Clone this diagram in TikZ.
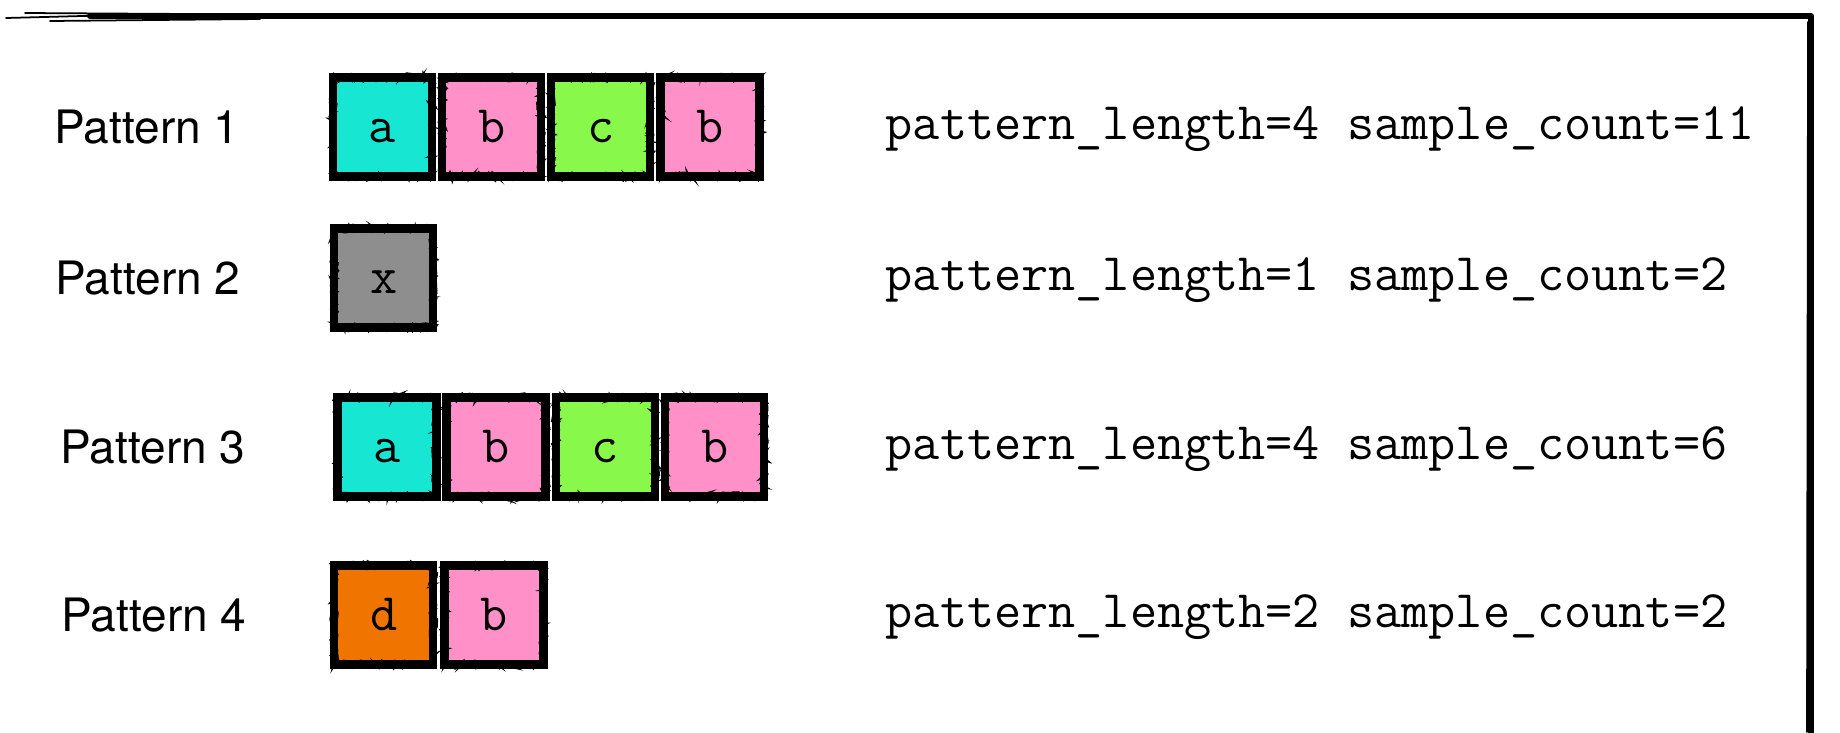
\documentclass[tikz,border=0pt]{standalone}
\usepackage{fontspec}
\setsansfont{TeX Gyre Heros}
\usepackage{tikz}
\usetikzlibrary{decorations.pathmorphing}
\usepackage{xcolor}
\definecolor{SeqCyan}{HTML}{17E6D2}
\definecolor{SeqPink}{HTML}{FF90C8}
\definecolor{SeqGreen}{HTML}{88F84A}
\definecolor{SeqGray}{HTML}{8E8E8E}
\definecolor{SeqOrange}{HTML}{EF7400}

\begin{document}
\begin{tikzpicture}[
  x=1cm,y=1cm,font=\sffamily,
  brush/.style={draw=black,line width=1.7pt,line cap=round,line join=round},
  wisp/.style={draw=black,line width=0.5pt,line cap=round},
  cell/.style={draw=black,line width=2.3pt,minimum width=0.99cm,minimum height=0.99cm,
    inner sep=0pt,text height=9pt,text depth=0pt,
    font=\ttfamily\fontsize{15}{16}\selectfont,
    postaction={draw=black,line width=0.8pt,decorate,
      decoration={random steps,segment length=1pt,amplitude=0.9pt}},
    postaction={draw=black,line width=0.4pt,decorate,
      decoration={random steps,segment length=0.8pt,amplitude=1.3pt}}},
  rowname/.style={font=\sffamily\fontsize{13.1}{15}\selectfont},
  stats/.style={anchor=base west,inner xsep=0pt,font=\ttfamily\fontsize{15}{16}\selectfont}
]
\useasboundingbox (0,0) rectangle (18.4,7.32);

% sketched frame: top and right edges only
\draw[brush] (0.9,7.16) -- (18.11,7.16) -- (18.11,0);
\draw[wisp] (0.06,7.14) -- (1.2,7.17);
\draw[wisp] (0.25,7.19) -- (1.9,7.18);
\draw[wisp] (0.5,7.11) -- (2.6,7.13);
\draw[wisp] (18.08,7.1) -- (18.07,0);

% row labels
\node[rowname] (name1) at (1.47,6.05) {Pattern 1};
\node[rowname] (name2) at (1.48,4.54) {Pattern 2};
\node[rowname] (name3) at (1.53,2.85) {Pattern 3};
\node[rowname] (name4) at (1.54,1.17) {Pattern 4};

% pattern 1
\node[cell,fill=SeqCyan] (p1a) at (3.825,6.05) {a};
\node[cell,fill=SeqPink] (p1b) at (4.917,6.05) {b};
\node[cell,fill=SeqGreen] (p1c) at (6.008,6.05) {c};
\node[cell,fill=SeqPink] (p1d) at (7.10,6.05) {b};

% pattern 2
\node[cell,fill=SeqGray] (p2a) at (3.837,4.54) {x};

% pattern 3
\node[cell,fill=SeqCyan] (p3a) at (3.87,2.85) {a};
\node[cell,fill=SeqPink] (p3b) at (4.96,2.85) {b};
\node[cell,fill=SeqGreen] (p3c) at (6.055,2.85) {c};
\node[cell,fill=SeqPink] (p3d) at (7.146,2.85) {b};

% pattern 4
\node[cell,fill=SeqOrange] (p4a) at (3.837,1.17) {d};
\node[cell,fill=SeqPink] (p4b) at (4.94,1.17) {b};

% counts
\node[stats] (stats1) at (8.85,5.924) {pattern\_length=4 sample\_count=11};
\node[stats] (stats2) at (8.85,4.411) {pattern\_length=1 sample\_count=2};
\node[stats] (stats3) at (8.85,2.721) {pattern\_length=4 sample\_count=6};
\node[stats] (stats4) at (8.85,1.041) {pattern\_length=2 sample\_count=2};

\end{tikzpicture}
\end{document}
